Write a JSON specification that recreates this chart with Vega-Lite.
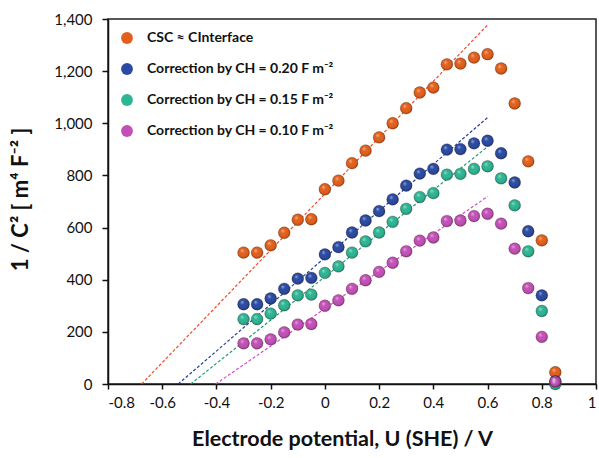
{
  "$schema": "https://vega.github.io/schema/vega-lite/v6.json",
  "width": 488,
  "height": 365,
  "autosize": {"type": "none"},
  "padding": {"left": 108, "top": 19, "right": 3, "bottom": 74},
  "background": "white",
  "config": {
    "view": {"stroke": "#222", "strokeWidth": 1.5},
    "font": "Lato"
  },
  "datasets": {
    "pts": [
      {"U": -0.3, "v": 504, "s": "CSC ≈ CInterface"},
      {"U": -0.25, "v": 504, "s": "CSC ≈ CInterface"},
      {"U": -0.2, "v": 532, "s": "CSC ≈ CInterface"},
      {"U": -0.15, "v": 580, "s": "CSC ≈ CInterface"},
      {"U": -0.1, "v": 630, "s": "CSC ≈ CInterface"},
      {"U": -0.05, "v": 632, "s": "CSC ≈ CInterface"},
      {"U": 0.0, "v": 747, "s": "CSC ≈ CInterface"},
      {"U": 0.05, "v": 780, "s": "CSC ≈ CInterface"},
      {"U": 0.1, "v": 847, "s": "CSC ≈ CInterface"},
      {"U": 0.15, "v": 895, "s": "CSC ≈ CInterface"},
      {"U": 0.2, "v": 946, "s": "CSC ≈ CInterface"},
      {"U": 0.25, "v": 1000, "s": "CSC ≈ CInterface"},
      {"U": 0.3, "v": 1058, "s": "CSC ≈ CInterface"},
      {"U": 0.35, "v": 1118, "s": "CSC ≈ CInterface"},
      {"U": 0.4, "v": 1137, "s": "CSC ≈ CInterface"},
      {"U": 0.45, "v": 1226, "s": "CSC ≈ CInterface"},
      {"U": 0.5, "v": 1229, "s": "CSC ≈ CInterface"},
      {"U": 0.55, "v": 1252, "s": "CSC ≈ CInterface"},
      {"U": 0.6, "v": 1265, "s": "CSC ≈ CInterface"},
      {"U": 0.65, "v": 1210, "s": "CSC ≈ CInterface"},
      {"U": 0.7, "v": 1076, "s": "CSC ≈ CInterface"},
      {"U": 0.75, "v": 854, "s": "CSC ≈ CInterface"},
      {"U": 0.8, "v": 551, "s": "CSC ≈ CInterface"},
      {"U": 0.85, "v": 45, "s": "CSC ≈ CInterface"},
      {"U": -0.3, "v": 306, "s": "Correction by CH = 0.20 F m⁻²"},
      {"U": -0.25, "v": 306, "s": "Correction by CH = 0.20 F m⁻²"},
      {"U": -0.2, "v": 328, "s": "Correction by CH = 0.20 F m⁻²"},
      {"U": -0.15, "v": 365, "s": "Correction by CH = 0.20 F m⁻²"},
      {"U": -0.1, "v": 404, "s": "Correction by CH = 0.20 F m⁻²"},
      {"U": -0.05, "v": 407, "s": "Correction by CH = 0.20 F m⁻²"},
      {"U": 0.0, "v": 497, "s": "Correction by CH = 0.20 F m⁻²"},
      {"U": 0.05, "v": 525, "s": "Correction by CH = 0.20 F m⁻²"},
      {"U": 0.1, "v": 581, "s": "Correction by CH = 0.20 F m⁻²"},
      {"U": 0.15, "v": 627, "s": "Correction by CH = 0.20 F m⁻²"},
      {"U": 0.2, "v": 663, "s": "Correction by CH = 0.20 F m⁻²"},
      {"U": 0.25, "v": 708, "s": "Correction by CH = 0.20 F m⁻²"},
      {"U": 0.3, "v": 761, "s": "Correction by CH = 0.20 F m⁻²"},
      {"U": 0.35, "v": 807, "s": "Correction by CH = 0.20 F m⁻²"},
      {"U": 0.4, "v": 825, "s": "Correction by CH = 0.20 F m⁻²"},
      {"U": 0.45, "v": 899, "s": "Correction by CH = 0.20 F m⁻²"},
      {"U": 0.5, "v": 901, "s": "Correction by CH = 0.20 F m⁻²"},
      {"U": 0.55, "v": 923, "s": "Correction by CH = 0.20 F m⁻²"},
      {"U": 0.6, "v": 933, "s": "Correction by CH = 0.20 F m⁻²"},
      {"U": 0.65, "v": 885, "s": "Correction by CH = 0.20 F m⁻²"},
      {"U": 0.7, "v": 773, "s": "Correction by CH = 0.20 F m⁻²"},
      {"U": 0.75, "v": 586, "s": "Correction by CH = 0.20 F m⁻²"},
      {"U": 0.8, "v": 340, "s": "Correction by CH = 0.20 F m⁻²"},
      {"U": 0.85, "v": 10, "s": "Correction by CH = 0.20 F m⁻²"},
      {"U": -0.3, "v": 249, "s": "Correction by CH = 0.15 F m⁻²"},
      {"U": -0.25, "v": 249, "s": "Correction by CH = 0.15 F m⁻²"},
      {"U": -0.2, "v": 270, "s": "Correction by CH = 0.15 F m⁻²"},
      {"U": -0.15, "v": 302, "s": "Correction by CH = 0.15 F m⁻²"},
      {"U": -0.1, "v": 340, "s": "Correction by CH = 0.15 F m⁻²"},
      {"U": -0.05, "v": 343, "s": "Correction by CH = 0.15 F m⁻²"},
      {"U": 0.0, "v": 426, "s": "Correction by CH = 0.15 F m⁻²"},
      {"U": 0.05, "v": 451, "s": "Correction by CH = 0.15 F m⁻²"},
      {"U": 0.1, "v": 504, "s": "Correction by CH = 0.15 F m⁻²"},
      {"U": 0.15, "v": 547, "s": "Correction by CH = 0.15 F m⁻²"},
      {"U": 0.2, "v": 581, "s": "Correction by CH = 0.15 F m⁻²"},
      {"U": 0.25, "v": 622, "s": "Correction by CH = 0.15 F m⁻²"},
      {"U": 0.3, "v": 672, "s": "Correction by CH = 0.15 F m⁻²"},
      {"U": 0.35, "v": 717, "s": "Correction by CH = 0.15 F m⁻²"},
      {"U": 0.4, "v": 732, "s": "Correction by CH = 0.15 F m⁻²"},
      {"U": 0.45, "v": 803, "s": "Correction by CH = 0.15 F m⁻²"},
      {"U": 0.5, "v": 806, "s": "Correction by CH = 0.15 F m⁻²"},
      {"U": 0.55, "v": 825, "s": "Correction by CH = 0.15 F m⁻²"},
      {"U": 0.6, "v": 835, "s": "Correction by CH = 0.15 F m⁻²"},
      {"U": 0.65, "v": 789, "s": "Correction by CH = 0.15 F m⁻²"},
      {"U": 0.7, "v": 685, "s": "Correction by CH = 0.15 F m⁻²"},
      {"U": 0.75, "v": 509, "s": "Correction by CH = 0.15 F m⁻²"},
      {"U": 0.8, "v": 280, "s": "Correction by CH = 0.15 F m⁻²"},
      {"U": 0.85, "v": 0, "s": "Correction by CH = 0.15 F m⁻²"},
      {"U": -0.3, "v": 156, "s": "Correction by CH = 0.10 F m⁻²"},
      {"U": -0.25, "v": 156, "s": "Correction by CH = 0.10 F m⁻²"},
      {"U": -0.2, "v": 171, "s": "Correction by CH = 0.10 F m⁻²"},
      {"U": -0.15, "v": 198, "s": "Correction by CH = 0.10 F m⁻²"},
      {"U": -0.1, "v": 228, "s": "Correction by CH = 0.10 F m⁻²"},
      {"U": -0.05, "v": 230, "s": "Correction by CH = 0.10 F m⁻²"},
      {"U": 0.0, "v": 300, "s": "Correction by CH = 0.10 F m⁻²"},
      {"U": 0.05, "v": 321, "s": "Correction by CH = 0.10 F m⁻²"},
      {"U": 0.1, "v": 365, "s": "Correction by CH = 0.10 F m⁻²"},
      {"U": 0.15, "v": 398, "s": "Correction by CH = 0.10 F m⁻²"},
      {"U": 0.2, "v": 430, "s": "Correction by CH = 0.10 F m⁻²"},
      {"U": 0.25, "v": 465, "s": "Correction by CH = 0.10 F m⁻²"},
      {"U": 0.3, "v": 509, "s": "Correction by CH = 0.10 F m⁻²"},
      {"U": 0.35, "v": 550, "s": "Correction by CH = 0.10 F m⁻²"},
      {"U": 0.4, "v": 562, "s": "Correction by CH = 0.10 F m⁻²"},
      {"U": 0.45, "v": 625, "s": "Correction by CH = 0.10 F m⁻²"},
      {"U": 0.5, "v": 627, "s": "Correction by CH = 0.10 F m⁻²"},
      {"U": 0.55, "v": 644, "s": "Correction by CH = 0.10 F m⁻²"},
      {"U": 0.6, "v": 653, "s": "Correction by CH = 0.10 F m⁻²"},
      {"U": 0.65, "v": 615, "s": "Correction by CH = 0.10 F m⁻²"},
      {"U": 0.7, "v": 519, "s": "Correction by CH = 0.10 F m⁻²"},
      {"U": 0.75, "v": 368, "s": "Correction by CH = 0.10 F m⁻²"},
      {"U": 0.8, "v": 181, "s": "Correction by CH = 0.10 F m⁻²"},
      {"U": 0.85, "v": 9, "s": "Correction by CH = 0.10 F m⁻²"}
    ],
    "fits": [
      {"U": -0.676, "v": 0, "s": "CSC ≈ CInterface"},
      {"U": 0.6, "v": 1377, "s": "CSC ≈ CInterface"},
      {"U": -0.541, "v": 0, "s": "Correction by CH = 0.20 F m⁻²"},
      {"U": 0.6, "v": 1022, "s": "Correction by CH = 0.20 F m⁻²"},
      {"U": -0.495, "v": 0, "s": "Correction by CH = 0.15 F m⁻²"},
      {"U": 0.6, "v": 910, "s": "Correction by CH = 0.15 F m⁻²"},
      {"U": -0.403, "v": 0, "s": "Correction by CH = 0.10 F m⁻²"},
      {"U": 0.6, "v": 719, "s": "Correction by CH = 0.10 F m⁻²"}
    ]
  },
  "resolve": {"scale": {"color": "independent"}, "legend": {"color": "independent"}},
  "layer": [
    {
      "data": {"name": "fits"},
      "mark": {"type": "line", "strokeDash": [3, 2], "strokeWidth": 1.2},
      "encoding": {
        "x": {"field": "U", "type": "quantitative"},
        "y": {"field": "v", "type": "quantitative"},
        "detail": {"field": "s"},
        "color": {
          "field": "s", "type": "nominal", "legend": null,
          "scale": {
            "domain": ["CSC ≈ CInterface", "Correction by CH = 0.20 F m⁻²", "Correction by CH = 0.15 F m⁻²", "Correction by CH = 0.10 F m⁻²"],
            "range": ["#F2492A", "#23409A", "#1E9E6E", "#D84AC8"]
          }
        }
      }
    },
    {
      "data": {"name": "pts"},
      "mark": {"type": "point", "filled": true, "size": 140, "opacity": 1, "stroke": "#3a2010", "strokeWidth": 0.5, "strokeOpacity": 0.5},
      "encoding": {
        "x": {
          "field": "U", "type": "quantitative",
          "scale": {"domain": [-0.8, 1], "nice": false},
          "axis": {
            "values": [-0.8, -0.6, -0.4, -0.2, 0, 0.2, 0.4, 0.6, 0.8, 1],
            "labelExpr": "toString(round(datum.value*10)/10)",
            "grid": false, "domainColor": "#111", "domainWidth": 1.5,
            "tickColor": "#111", "tickWidth": 1.5, "tickSize": 5,
            "labelFont": "Lato", "labelFontSize": 15, "labelColor": "#111", "labelPadding": 6,
            "title": "Electrode potential,  U (SHE) / V",
            "titleFont": "Lato", "titleFontSize": 21.5, "titleFontWeight": "bold", "titleColor": "#111",
            "titleX": 234, "titleY": 55, "titleAnchor": null, "titleAlign": "center", "titleBaseline": "middle"
          }
        },
        "y": {
          "field": "v", "type": "quantitative",
          "scale": {"domain": [0, 1400], "nice": false},
          "axis": {
            "values": [0, 200, 400, 600, 800, 1000, 1200, 1400],
            "format": ",d",
            "grid": false, "domainColor": "#111", "domainWidth": 1.5,
            "tickColor": "#111", "tickWidth": 1.5, "tickSize": 6,
            "labelFont": "Lato", "labelFontSize": 15, "labelColor": "#111", "labelPadding": 10,
            "title": "1 / C²  [ m⁴ F⁻² ]",
            "titleFont": "Lato", "titleFontSize": 22, "titleFontWeight": "bold", "titleColor": "#111",
            "titleX": -88, "titleY": 180, "titleAnchor": null, "titleAlign": "center", "titleBaseline": "middle", "titleAngle": -90
          }
        },
        "color": {
          "field": "s", "type": "nominal",
          "scale": {
            "domain": ["CSC ≈ CInterface", "Correction by CH = 0.20 F m⁻²", "Correction by CH = 0.15 F m⁻²", "Correction by CH = 0.10 F m⁻²"],
            "range": ["#E3601C", "#2A4AA3", "#2DB594", "#C350B8"]
          },
          "legend": {
            "title": null, "orient": "none", "legendX": 12, "legendY": 12,
            "labelFont": "Lato", "labelFontSize": 14, "labelFontWeight": "bold", "labelColor": "#111",
            "symbolSize": 140, "symbolType": "circle", "symbolStrokeWidth": 0,
            "rowPadding": 17, "labelOffset": 13, "labelLimit": 400
          }
        }
      }
    },
    {
      "data": {"name": "pts"},
      "mark": {
        "type": "point", "filled": true, "size": 140, "opacity": 1,
        "fill": {
          "gradient": "radial", "x1": 0.35, "y1": 0.3, "r1": 0, "x2": 0.5, "y2": 0.5, "r2": 0.55,
          "stops": [
            {"offset": 0, "color": "rgba(255,255,255,0.55)"},
            {"offset": 0.35, "color": "rgba(255,255,255,0.0)"},
            {"offset": 0.75, "color": "rgba(0,0,0,0.05)"},
            {"offset": 1, "color": "rgba(0,0,0,0.4)"}
          ]
        }
      },
      "encoding": {
        "x": {"field": "U", "type": "quantitative"},
        "y": {"field": "v", "type": "quantitative"}
      }
    }
  ]
}
